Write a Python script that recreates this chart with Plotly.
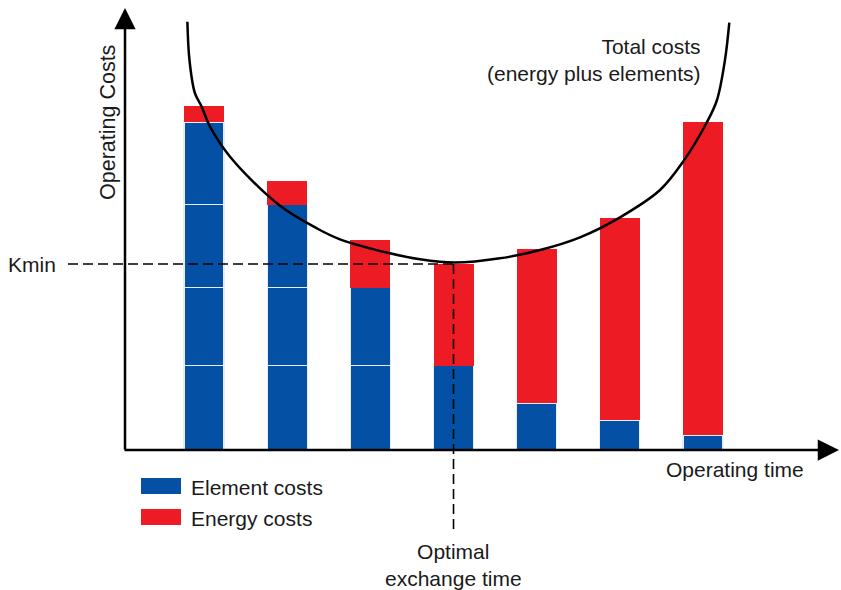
import plotly.graph_objects as go

# ---------------- data ----------------
periods = [1, 2, 3, 4, 5, 6, 7]
# element costs, drawn as stacked blocks (one block per element change)
element_block1 = [8.45, 8.45, 8.45, 8.45, 4.7, 3.0, 1.5]
element_block2 = [7.8, 7.8, 7.8, None, None, None, None]
element_block3 = [8.3, 8.3, None, None, None, None, None]
element_block4 = [8.25, None, None, None, None, None, None]
energy_costs = [1.6, 2.4, 4.8, 10.2, 15.45, 20.2, 31.3]

# total costs curve (energy plus elements)
total_x = [0.80, 0.825, 0.89, 0.972, 1.072, 1.313, 1.902, 2.371, 2.635, 3.236, 3.597,
           4.018, 4.559, 5.040, 5.521, 6.002, 6.483, 6.760, 7.048, 7.168, 7.264, 7.316]
total_y = [42.83, 39.0, 35.7, 34.33, 32.33, 29.33, 24.5, 22.1, 21.07, 19.67, 19.07,
           18.75, 19.17, 20.0, 21.27, 23.27, 26.0, 28.83, 32.8, 35.0, 39.0, 42.73]

k_min = 18.6
optimal_time = 4

BLUE = "#0450a4"
RED = "#ed1c24"
FONT = "Liberation Sans, Arial, Helvetica, sans-serif"
TXT = "#1a1a1a"

W, H = 841, 590
ML, MR, MT, MB = 125, 3, 20, 140
XR = [0.05, 8.623]
YR = [0, 43]
PW = W - ML - MR
PH = H - MT - MB


def px_x(px):
    return (px - ML) / PW


def px_y(py):
    return (H - MB - py) / PH


def dx_paper(x):
    return (x - XR[0]) / (XR[1] - XR[0])


def dy_paper(y):
    return (y - YR[0]) / (YR[1] - YR[0])


fig = go.Figure()
bar_w = 0.481
for i, blk in enumerate([element_block1, element_block2, element_block3, element_block4]):
    fig.add_trace(go.Bar(x=periods, y=blk, width=bar_w, name="Element costs",
                         legendgroup="el", showlegend=False,
                         marker=dict(color=BLUE, line=dict(color="#e6eefa", width=1.2))))
fig.add_trace(go.Bar(x=periods, y=energy_costs, width=bar_w, name="Energy costs",
                     showlegend=False, marker=dict(color=RED, line=dict(width=0))))
fig.add_trace(go.Scatter(x=total_x, y=total_y, mode="lines", name="Total costs",
                         showlegend=False,
                         line=dict(color="black", width=2.5, shape="spline", smoothing=1.0)))

shapes = []
# Kmin dashed line
shapes.append(dict(type="line", xref="paper", yref="paper",
                   x0=px_x(68), x1=dx_paper(optimal_time),
                   y0=dy_paper(k_min), y1=dy_paper(k_min),
                   line=dict(color="black", width=1.6, dash="10px,5px"), layer="above"))
# optimal exchange time dashed line
shapes.append(dict(type="line", xref="paper", yref="paper",
                   x0=dx_paper(optimal_time), x1=dx_paper(optimal_time),
                   y0=dy_paper(k_min), y1=px_y(531),
                   line=dict(color="black", width=1.6, dash="10px,5px"), layer="above"))
# legend swatches
shapes.append(dict(type="rect", xref="paper", yref="paper",
                   x0=px_x(141), x1=px_x(181), y0=px_y(478), y1=px_y(494),
                   fillcolor=BLUE, line=dict(width=0)))
shapes.append(dict(type="rect", xref="paper", yref="paper",
                   x0=px_x(141), x1=px_x(181), y0=px_y(509), y1=px_y(525),
                   fillcolor=RED, line=dict(width=0)))

font = dict(family=FONT, size=21, color=TXT)
annotations = [
    # y axis with arrow
    dict(xref="paper", yref="paper", x=0, y=px_y(8), ax=0, ay=443, text="",
         showarrow=True, arrowhead=2, arrowsize=1.7, arrowwidth=2.5, arrowcolor="black",
         standoff=0),
    # x axis with arrow
    dict(xref="paper", yref="paper", x=px_x(839), y=0, ax=-716, ay=0, text="",
         showarrow=True, arrowhead=2, arrowsize=1.7, arrowwidth=2.5, arrowcolor="black",
         standoff=0),
    dict(xref="paper", yref="paper", x=px_x(108), y=px_y(123), text="Operating Costs",
         textangle=-90, showarrow=False, font=dict(family=FONT, size=21.5, color=TXT),
         xanchor="center", yanchor="middle"),
    dict(xref="paper", yref="paper", x=px_x(806), y=px_y(469), text="Operating time",
         showarrow=False, font=font, xanchor="right", yanchor="middle"),
    dict(xref="paper", yref="paper", x=px_x(58), y=dy_paper(k_min), text="Kmin",
         showarrow=False, font=font, xanchor="right", yanchor="middle"),
    dict(xref="paper", yref="paper", x=px_x(703), y=px_y(59.5),
         text="Total costs<br>(energy plus elements)", align="right",
         showarrow=False, font=font, xanchor="right", yanchor="middle"),
    dict(xref="paper", yref="paper", x=dx_paper(optimal_time), y=px_y(564.5),
         text="Optimal<br>exchange time", align="center",
         showarrow=False, font=font, xanchor="center", yanchor="middle"),
    dict(xref="paper", yref="paper", x=px_x(189), y=px_y(487), text="Element costs",
         showarrow=False, font=font, xanchor="left", yanchor="middle"),
    dict(xref="paper", yref="paper", x=px_x(189), y=px_y(518), text="Energy costs",
         showarrow=False, font=font, xanchor="left", yanchor="middle"),
]

fig.update_layout(
    width=W, height=H,
    margin=dict(l=ML, r=MR, t=MT, b=MB, pad=0),
    barmode="stack",
    plot_bgcolor="white", paper_bgcolor="white",
    showlegend=False,
    xaxis=dict(range=XR, visible=False, fixedrange=True),
    yaxis=dict(range=YR, visible=False, fixedrange=True),
    shapes=shapes,
    annotations=annotations,
    font=dict(family=FONT),
)

fig.write_html(
    "out.html",
    config={"displayModeBar": False},
    post_script="document.body.style.margin='0';document.body.style.overflow='hidden';",
)
